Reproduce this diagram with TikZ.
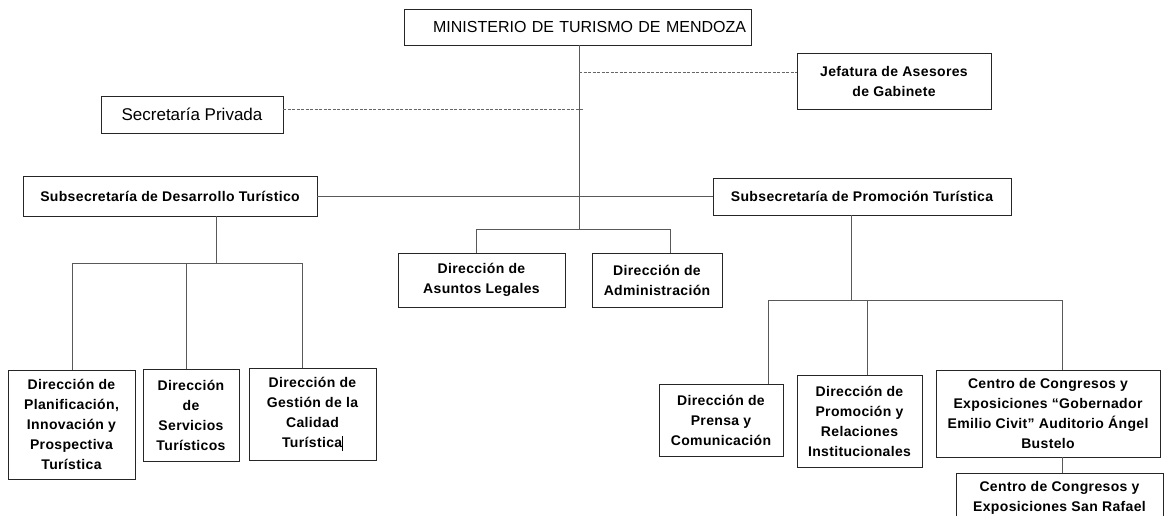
\documentclass[tikz,border=0pt]{standalone}
\usepackage{fontspec}
\setmainfont{Liberation Sans}
\newfontfamily\boldsp{Liberation Sans}[LetterSpace=2.5]
\begin{document}
\begin{tikzpicture}[x=1pt,y=-1pt,
  box/.style={draw=black!85, line width=0.8pt, fill=white, align=center, inner sep=0pt,
    font=\fontsize{14}{20}\selectfont\boldsp\bfseries},
  topbox/.style={box, font=\fontsize{16}{20}\selectfont},
  conn/.style={draw=black!65, line width=0.8pt},
  dashline/.style={draw=black!60, line width=0.7pt, dash pattern=on 3pt off 1.5pt}]
\clip (0,0) rectangle (1167,515);
\fill[white] (0,0) rectangle (1167,515);

% nodes
\node[topbox, minimum width=347pt, minimum height=36pt, text width=337pt, align=right, inner xsep=5pt] (min) at (577.5,27) {MINISTERIO DE TURISMO DE MENDOZA};
\node[box, minimum width=194pt, minimum height=56pt] (jef) at (894,81) {Jefatura de Asesores\\de Gabinete};
\node[topbox, minimum width=182pt, minimum height=37pt, font=\fontsize{17}{20}\selectfont] (sec) at (192,114.5) {Secretaría Privada};
\node[box, minimum width=294pt, minimum height=40pt] (sdes) at (170,196) {Subsecretaría de Desarrollo Turístico};
\node[box, minimum width=298pt, minimum height=37pt] (sprom) at (862,196.5) {Subsecretaría de Promoción Turística};
\node[box, minimum width=167pt, minimum height=54pt] (leg) at (481.5,280) {Dirección de\\Asuntos Legales};
\node[box, minimum width=130pt, minimum height=54pt] (adm) at (657,280) {Dirección de\\Administración};
\node[box, minimum width=127pt, minimum height=109pt] (plan) at (71.5,424.5) {Dirección de\\Planificación,\\Innovación y\\Prospectiva\\Turística};
\node[box, minimum width=96pt, minimum height=92pt] (serv) at (191,415) {Dirección\\de\\Servicios\\Turísticos};
\node[box, minimum width=127pt, minimum height=92pt] (cal) at (312.5,414) {Dirección de\\Gestión de la\\Calidad\\Turística\rule[-3pt]{0.7pt}{15pt}};
\node[box, minimum width=124pt, minimum height=72pt] (pren) at (721,420) {Dirección de\\Prensa y\\Comunicación};
\node[box, minimum width=125pt, minimum height=92pt] (rel) at (859.5,421) {Dirección de\\Promoción y\\Relaciones\\Institucionales};
\node[box, minimum width=224pt, minimum height=87pt] (cc1) at (1048,413.5) {Centro de Congresos y\\Exposiciones “Gobernador\\Emilio Civit” Auditorio Ángel\\Bustelo};
\node[box, minimum width=207pt, minimum height=50pt] (cc2) at (1059.5,498) {Centro de Congresos y\\Exposiciones San Rafael};

% coordinates
\coordinate (t0) at (579,45);
\coordinate (tj) at (579,72);
\coordinate (ts) at (583,109);
\coordinate (tb) at (579,229);
\coordinate (bl) at (476,229);
\coordinate (br) at (670,229);
\coordinate (d0) at (216,216);
\coordinate (d1) at (216,263);
\coordinate (dl) at (72,263);
\coordinate (dm) at (186,263);
\coordinate (dr) at (302,263);
\coordinate (p0) at (851,215);
\coordinate (p1) at (851,300);
\coordinate (pl) at (768,300);
\coordinate (pm) at (867,300);
\coordinate (pr) at (1062,300);
\coordinate (c0) at (1062,457);

% connectors
\draw[conn] (t0) -- (tb);
\draw[dashline] (tj) -- (tj -| jef.west);
\draw[dashline] (sec.east |- ts) -- (ts);
\draw[conn] (sdes.east) -- (sdes.east -| sprom.west);
\draw[conn] (bl) -- (br);
\draw[conn] (bl) -- (bl |- leg.north);
\draw[conn] (br) -- (br |- adm.north);
\draw[conn] (d0) -- (d1);
\draw[conn] (dl) -- (dr);
\draw[conn] (dl) -- (dl |- plan.north);
\draw[conn] (dm) -- (dm |- serv.north);
\draw[conn] (dr) -- (dr |- cal.north);
\draw[conn] (p0) -- (p1);
\draw[conn] (pl) -- (pr);
\draw[conn] (pl) -- (pl |- pren.north);
\draw[conn] (pm) -- (pm |- rel.north);
\draw[conn] (pr) -- (pr |- cc1.north);
\draw[conn] (c0) -- (c0 |- cc2.north);
\end{tikzpicture}
\end{document}
